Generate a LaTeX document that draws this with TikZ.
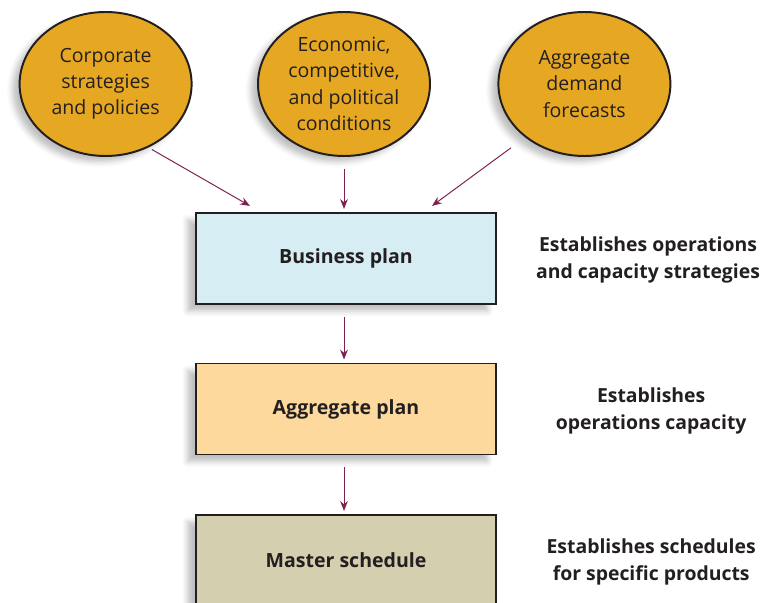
\documentclass[tikz,border=0pt]{standalone}
\usepackage{fontspec}
\setmainfont{Open Sans}
\usepackage{xcolor}
\usetikzlibrary{shapes.geometric,arrows.meta,shadows.blur}
\definecolor{driverorange}{HTML}{E6A823}
\definecolor{businessblue}{HTML}{D5EDF3}
\definecolor{aggregatetan}{HTML}{FDD99E}
\definecolor{masterkhaki}{HTML}{D3CFAF}
\definecolor{inkgray}{HTML}{231F20}
\definecolor{flowpurple}{HTML}{7E2052}

\begin{document}
\begin{tikzpicture}[
	driver/.style={ellipse,draw=inkgray,line width=1.4pt,fill=driverorange,minimum width=4.3cm,minimum height=3.6cm,inner sep=0pt,align=center,text=inkgray,font=\fontsize{13.9}{18.6}\selectfont,blur shadow={shadow xshift=-5pt,shadow yshift=-4pt,shadow blur radius=4pt,shadow opacity=25}},
	plan/.style={rectangle,draw=inkgray,line width=1.4pt,minimum width=7.5cm,minimum height=2.275cm,align=center,text=inkgray,font=\fontsize{13.9}{18}\selectfont\bfseries,blur shadow={shadow xshift=-6pt,shadow yshift=-5pt,shadow blur radius=4pt,shadow opacity=25}},
	note/.style={align=center,text=inkgray,font=\fontsize{13.8}{19.2}\selectfont\bfseries},
	flow/.style={draw=flowpurple,line width=0.7pt,-{Stealth[length=7pt,width=5.5pt]}}]
		\useasboundingbox (0,0) rectangle (19.05,-15.075);
		\node[driver] (corp) at (2.64,-2.1) {Corporate\\strategies\\and policies};
		\node[driver] (econ) at (8.6,-2.1) {Economic,\\competitive,\\and political\\conditions};
		\node[driver] (fcst) at (14.61,-2.1) {Aggregate\\demand\\forecasts};
		\node[plan,fill=businessblue] (biz) at (8.65,-6.46) {Business plan};
		\node[plan,fill=aggregatetan] (agg) at (8.65,-10.225) {Aggregate plan};
		\node[plan,fill=masterkhaki] (mst) at (8.65,-14.01) {Master schedule};
		\node[note] (bizNote) at (16.2,-6.5) {Establishes operations\\and capacity strategies};
		\node[note] (aggNote) at (16.28,-10.28) {Establishes\\operations capacity};
		\node[note] (mstNote) at (16.28,-14.06) {Establishes schedules\\for specific products};
		\draw[flow,shorten <=0.1cm] (corp.-56) -- ([shift={(1.375,0.15)}]biz.north west);
		\draw[flow,shorten <=0.3cm,shorten >=0.075cm] (econ.south) -- (econ.south |- biz.north);
		\draw[flow,shorten <=0.44cm] (fcst.222) -- ([shift={(-1.625,0.15)}]biz.north east);
		\draw[flow,shorten <=0.3cm,shorten >=0.075cm] (biz.south -| econ.south) -- (agg.north -| econ.south);
		\draw[flow,shorten <=0.3cm,shorten >=0.075cm] (agg.south -| econ.south) -- (mst.north -| econ.south);
	\end{tikzpicture}
\end{document}
